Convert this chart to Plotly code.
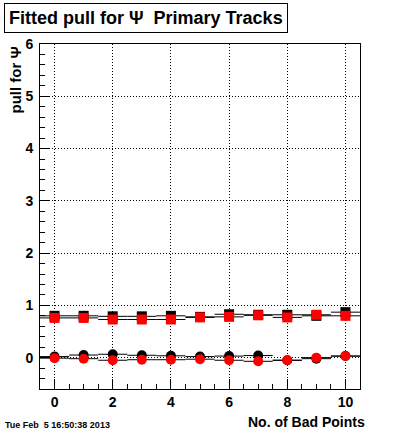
import plotly.graph_objects as go

x_bins = [0, 1, 2, 3, 4, 5, 6, 7, 8, 9, 10]
black_sq = [0.80, 0.80, 0.79, 0.79, 0.80, 0.78, 0.83, 0.82, 0.82, 0.80, 0.87]
red_sq = [0.76, 0.76, 0.73, 0.73, 0.73, 0.77, 0.78, 0.81, 0.77, 0.82, 0.80]
black_circ = [0.02, 0.05, 0.065, 0.045, 0.035, 0.02, 0.03, 0.04, -0.05, -0.02, 0.03]
red_circ = [-0.01, -0.02, -0.05, -0.04, -0.04, -0.03, -0.05, -0.07, -0.05, 0.0, 0.03]
x_half_width = [0.5] * len(x_bins)

FONT = "Liberation Sans"

fig = go.Figure()

def add(y, color, symbol):
    fig.add_trace(go.Scatter(
        x=x_bins, y=y, mode="markers",
        marker=dict(color=color, symbol=symbol, size=10, line=dict(width=0)),
        error_x=dict(type="data", array=x_half_width, color="black", thickness=1, width=0),
        showlegend=False,
    ))

add(black_circ, "black", "circle")
add(black_sq, "black", "square")
add(red_circ, "#ff0000", "circle")
add(red_sq, "#ff0000", "square")

axis_common = dict(
    showline=True, linecolor="black", linewidth=1, mirror=True,
    ticks="inside", tickcolor="black", tickwidth=1, ticklen=10,
    showgrid=True, gridcolor="black", gridwidth=1, griddash="1px,2px",
    zeroline=False,
    tickfont=dict(family=FONT, size=14, color="black", weight="bold"),
)

fig.update_xaxes(range=[-0.5, 10.5], tickvals=[0, 2, 4, 6, 8, 10],
                 minor=dict(dtick=0.5, tick0=0, ticks="inside", ticklen=5, tickcolor="black", showgrid=False),
                 **axis_common)
fig.update_yaxes(range=[-0.6, 6], tickvals=[0, 1, 2, 3, 4, 5, 6],
                 minor=dict(dtick=0.2, tick0=0, ticks="inside", ticklen=5, tickcolor="black", showgrid=False),
                 ticklabelstandoff=3,
                 **axis_common)

fig.add_annotation(
    text="Fitted pull for \u03a8  Primary Tracks", xref="paper", yref="paper",
    x=(4 - 40) / 320, y=(389 - 3) / 345, xanchor="left", yanchor="top",
    showarrow=False, bordercolor="black", borderwidth=1, borderpad=4,
    bgcolor="white",
    font=dict(family=FONT, size=18, color="black", weight="bold"),
)
fig.add_annotation(
    text="pull for \u03a8", xref="paper", yref="paper",
    x=(15 - 40) / 320, y=(389 - 45) / 345, xanchor="center", yanchor="top",
    textangle=-90, showarrow=False,
    font=dict(family=FONT, size=15, color="black", weight="bold"),
)
fig.add_annotation(
    text="No. of Bad Points", xref="paper", yref="paper",
    x=(367 - 40) / 320, y=(389 - 422) / 345, xanchor="right", yanchor="middle",
    showarrow=False,
    font=dict(family=FONT, size=14, color="black", weight="bold"),
)
fig.add_annotation(
    text="Tue Feb  5 16:50:38 2013", xref="paper", yref="paper",
    x=(3 - 40) / 320, y=(389 - 425) / 345, xanchor="left", yanchor="middle",
    showarrow=False,
    font=dict(family=FONT, size=9, color="black", weight="bold"),
)

fig.update_layout(
    width=400, height=433,
    margin=dict(l=40, r=40, t=44, b=44),
    paper_bgcolor="white", plot_bgcolor="white",
)

fig.write_html("out.html", config={"displayModeBar": False},
               post_script="document.body.style.margin='0';document.body.style.overflow='hidden';")
